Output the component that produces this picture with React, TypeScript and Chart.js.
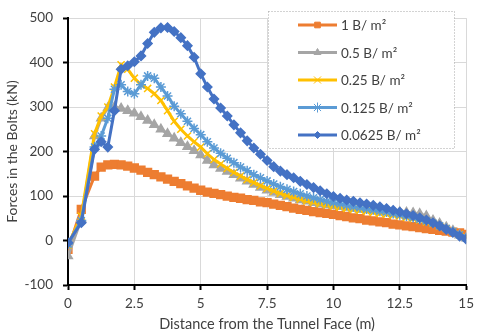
import React, { useEffect, useRef } from 'react';
import { Chart, registerables } from 'chart.js';
import { drawPoint } from 'chart.js/helpers';

Chart.register(...registerables);

const xValues = [0, 0.5, 1, 1.25, 1.5, 1.75, 2, 2.25, 2.5, 2.75, 3, 3.25, 3.5, 3.75, 4, 4.25, 4.5, 4.75, 5, 5.25, 5.5, 5.75, 6, 6.25, 6.5, 6.75, 7, 7.25, 7.5, 7.75, 8, 8.25, 8.5, 8.75, 9, 9.25, 9.5, 9.75, 10, 10.25, 10.5, 10.75, 11, 11.25, 11.5, 11.75, 12, 12.25, 12.5, 12.75, 13, 13.25, 13.5, 13.75, 14, 14.25, 14.5, 14.75, 15];

const seriesLabels = ['1 B/ m²', '0.5 B/ m²', '0.25 B/ m²', '0.125 B/ m²', '0.0625 B/ m²'];

const s1B = [-20, 70, 145, 165, 170, 171, 170, 167, 163, 158, 153, 148, 143, 138, 133, 128, 123, 118, 113, 109, 106, 103, 100, 97, 95, 92, 90, 87, 85, 82, 79, 76, 73, 70, 68, 65, 63, 61, 59, 56, 54, 51, 49, 46, 44, 42, 40, 37, 35, 33, 31, 29, 27, 25, 23, 21, 19, 17, 14];
const s05B = [-35, 48, 235, 275, 298, 300, 297, 292, 286, 278, 270, 260, 250, 240, 230, 220, 211, 202, 192, 180, 170, 162, 155, 148, 140, 133, 126, 119, 113, 108, 103, 99, 95, 91, 88, 85, 82, 80, 78, 76, 74, 72, 70, 69, 68, 67, 66, 65, 64, 63, 62, 60, 55, 45, 38, 30, 22, 12, 5];
const s025B = [-10, 55, 240, 280, 300, 345, 395, 385, 365, 350, 342, 330, 315, 292, 268, 250, 235, 222, 210, 195, 182, 172, 162, 153, 145, 137, 130, 123, 117, 111, 106, 101, 97, 93, 89, 86, 83, 80, 77, 75, 72, 70, 68, 66, 63, 61, 59, 57, 55, 52, 49, 46, 42, 38, 32, 27, 20, 14, 8];
const s0125B = [-8, 45, 210, 235, 275, 340, 350, 335, 330, 350, 370, 365, 345, 325, 302, 285, 268, 252, 238, 222, 208, 196, 185, 175, 165, 157, 148, 141, 134, 127, 121, 115, 110, 105, 100, 96, 92, 88, 85, 82, 79, 76, 74, 71, 69, 66, 64, 61, 58, 55, 52, 48, 44, 39, 33, 27, 20, 13, 6];
const s00625B = [-5, 40, 205, 222, 210, 292, 385, 393, 402, 415, 443, 468, 478, 479, 470, 456, 438, 412, 375, 345, 318, 298, 280, 260, 242, 224, 208, 194, 180, 166, 156, 148, 141, 133, 126, 119, 112, 105, 99, 95, 91, 88, 85, 82, 79, 76, 72, 68, 64, 60, 56, 51, 46, 40, 33, 25, 18, 10, 3];

const seriesData = [s1B, s05B, s025B, s0125B, s00625B];
const colors = ['#ED7D31', '#A5A5A5', '#FFC000', '#5B9BD5', '#4472C4'];
const pointStyles = ['rect', 'triangle', 'crossRot', 'star', 'rectRot'];
const pointRadii = [5.5, 5, 5, 5, 4.5];
const legendRadii = [4, 4, 5, 5, 3.5];

const xTicks = [0, 2.5, 5, 7.5, 10, 12.5, 15];
const yTicks = [-100, 0, 100, 200, 300, 400, 500];

const FONT = 'Lato, "Open Sans", sans-serif';
const TEXT_COLOR = '#404040';

const legendPlugin = {
  id: 'boxLegend',
  afterDatasetsDraw(chart: any) {
    const ctx = chart.ctx;
    const bx = 268, by = 11, bw = 186, bh = 137;
    ctx.save();
    ctx.fillStyle = '#ffffff';
    ctx.fillRect(bx, by, bw, bh);
    ctx.setLineDash([1, 2]);
    ctx.strokeStyle = '#a6a6a6';
    ctx.lineWidth = 1;
    ctx.strokeRect(bx + 0.5, by + 0.5, bw, bh);
    ctx.setLineDash([]);
    ctx.font = '13.5px ' + FONT;
    ctx.textBaseline = 'middle';
    ctx.textAlign = 'left';
    seriesLabels.forEach((label, i) => {
      const y = 25 + i * 27.5;
      ctx.strokeStyle = colors[i];
      ctx.fillStyle = colors[i];
      ctx.lineWidth = 3;
      ctx.beginPath();
      ctx.moveTo(298, y);
      ctx.lineTo(337, y);
      ctx.stroke();
      ctx.lineWidth = 1;
      drawPoint(ctx, { pointStyle: pointStyles[i], rotation: 0, radius: legendRadii[i], borderWidth: 1 }, 317.5, y);
      ctx.fillStyle = TEXT_COLOR;
      ctx.fillText(label, 341, y + 1);
    });
    ctx.restore();
  },
};

export default function App() {
  const ref = useRef<HTMLCanvasElement>(null);
  useEffect(() => {
    if (!ref.current) return;
    const datasets = seriesLabels.map((label, i) => ({
      label,
      data: xValues.map((x, j) => ({ x, y: seriesData[i][j] })),
      borderColor: colors[i],
      backgroundColor: colors[i],
      borderWidth: 3,
      pointStyle: pointStyles[i],
      pointRadius: pointRadii[i],
      pointBorderWidth: 1.5,
      pointBackgroundColor: colors[i],
      pointBorderColor: colors[i],
      tension: 0,
      order: 4 - i,
    }));
    const chart = new Chart(ref.current, {
      type: 'line',
      data: { datasets },
      plugins: [legendPlugin],
      options: {
        animation: false,
        responsive: false,
        layout: { padding: { top: 9, right: 12, left: 0, bottom: 0 } },
        plugins: { legend: { display: false }, tooltip: { enabled: false } },
        scales: {
          x: {
            type: 'linear',
            min: 0,
            max: 15,
            afterBuildTicks: (scale: any) => { scale.ticks = xTicks.map((v) => ({ value: v })); },
            afterFit: (scale: any) => { scale.height = 49; },
            ticks: { color: TEXT_COLOR, font: { family: FONT, size: 13.5 }, padding: 6, maxRotation: 0, callback: (v: any) => String(v) },
            grid: { color: '#d9d9d9', lineWidth: 1, tickColor: '#000', tickLength: 5, tickWidth: 2 },
            border: { color: '#000', width: 2 },
            title: { display: true, text: 'Distance from the Tunnel Face (m)', color: TEXT_COLOR, font: { family: FONT, size: 14.5 }, padding: { top: 0, bottom: 1 } },
          },
          y: {
            type: 'linear',
            min: -100,
            max: 500,
            afterBuildTicks: (scale: any) => { scale.ticks = yTicks.map((v) => ({ value: v })); },
            afterFit: (scale: any) => { scale.width = 68; },
            ticks: { color: TEXT_COLOR, font: { family: FONT, size: 13.5 }, padding: 10, callback: (v: any) => String(v) },
            grid: { color: '#d9d9d9', lineWidth: 1, tickColor: '#000', tickLength: 5, tickWidth: 2 },
            border: { color: '#000', width: 2 },
            title: { display: true, text: 'Forces in the Bolts (kN)', color: TEXT_COLOR, font: { family: FONT, size: 14 }, padding: { top: 4, bottom: 0 } },
          },
        },
      },
    } as any);
    return () => chart.destroy();
  }, []);
  return (
    <div style={{ position: 'absolute', left: 0, top: 0, width: 480, height: 334, background: '#fff' }}>
      <canvas ref={ref} width={480} height={334} style={{ display: 'block' }} />
    </div>
  );
}
